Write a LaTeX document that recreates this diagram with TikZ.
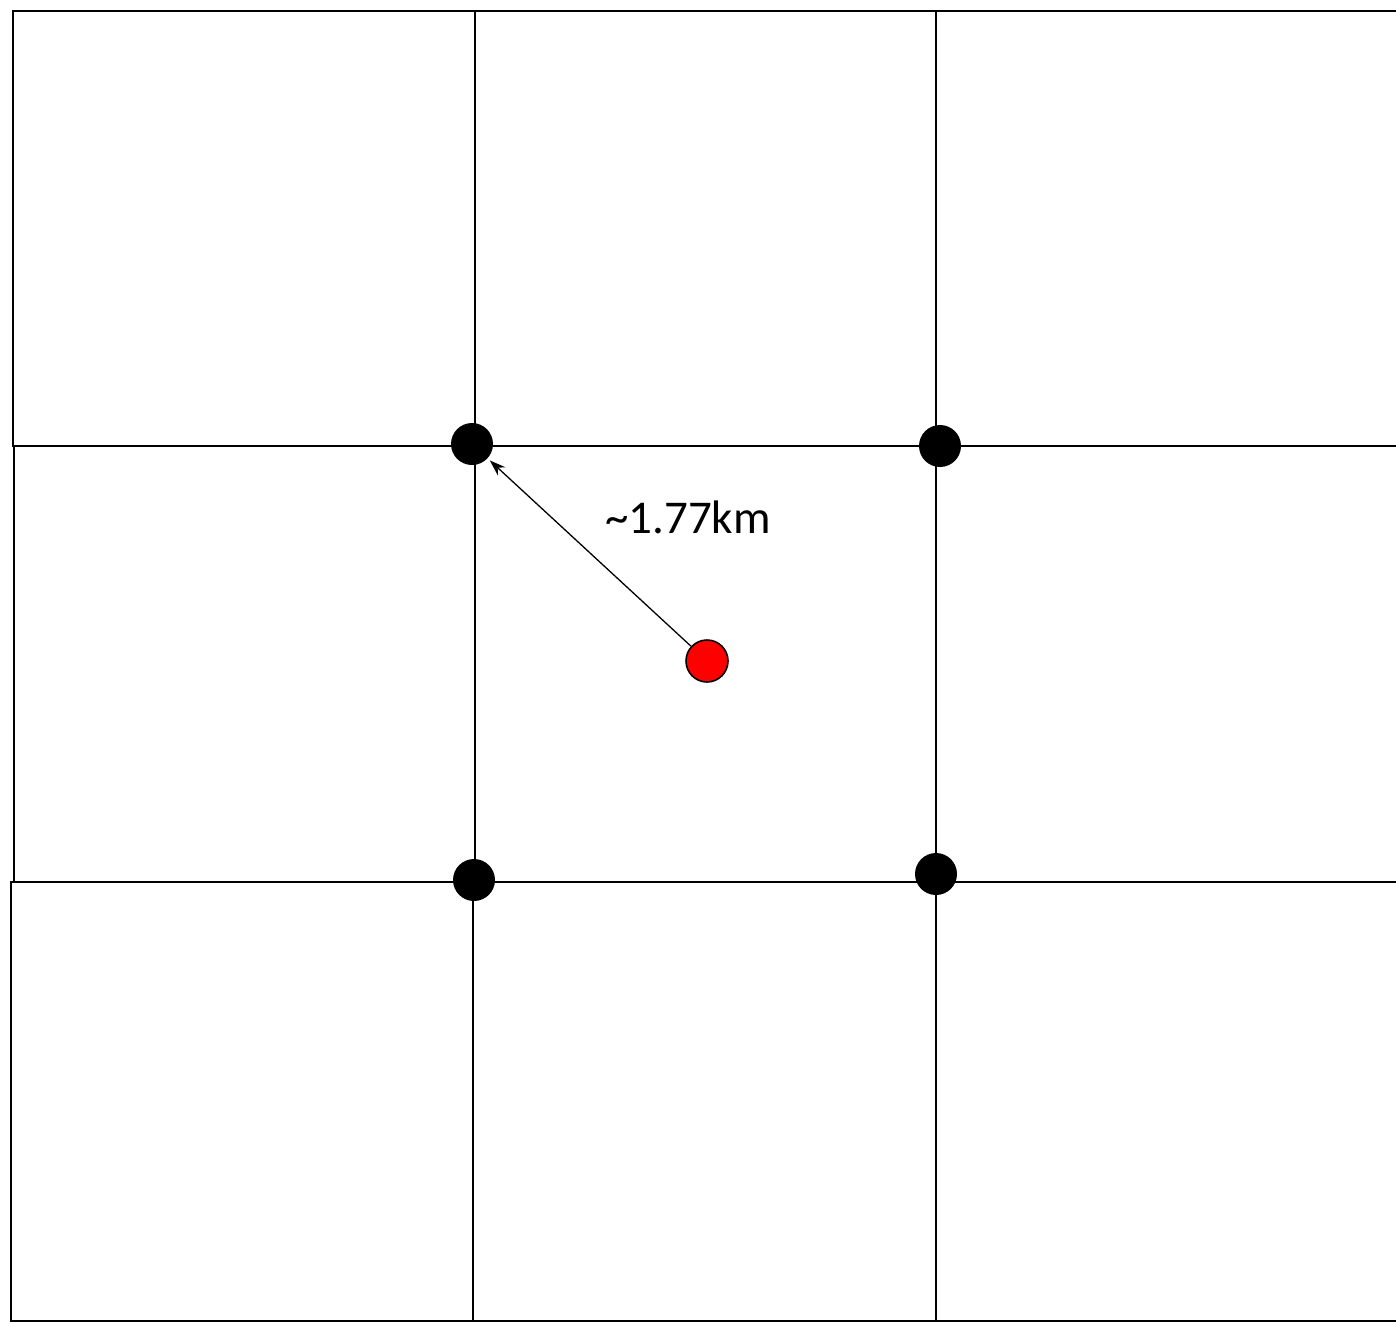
\documentclass[tikz,border=0pt]{standalone}
\usepackage{fontspec}
\setmainfont{Carlito}
\usetikzlibrary{arrows.meta}
\begin{document}
\begin{tikzpicture}[x=1pt,y=-1pt,
  gridline/.style={line width=2.8pt,line cap=rect},
  blackdot/.style={circle,fill=black,minimum size=42pt,inner sep=0pt},
  reddot/.style={circle,fill=red,draw=black,line width=1.6pt,minimum size=42pt,inner sep=0pt},
  pointer/.style={line width=1.3pt,-{Stealth[length=16pt,width=11pt]},shorten >=3pt},
  label/.style={font=\fontsize{47}{54}\selectfont,inner sep=0pt,anchor=base}]
\useasboundingbox (0,0) rectangle (1396,1325);
\clip (0,0) rectangle (1396,1325);
\fill[white] (0,0) rectangle (1396,1325);
% top row
\draw[gridline] (1420,11) -- (13,11) -- (13,446) -- (1420,446);
% middle row
\draw[gridline] (14,446) -- (14,882);
% bottom row
\draw[gridline] (1420,882) -- (11,882) -- (11,1321) -- (1420,1321);
% verticals
\draw[gridline] (475,11) -- (475,882);
\draw[gridline] (473,882) -- (473,1321);
\draw[gridline] (936,11) -- (936,1321);
% dots
\node[blackdot] (tl) at (472,444) {};
\node[blackdot] (tr) at (940,446) {};
\node[blackdot] (bl) at (474,880) {};
\node[blackdot] (br) at (936,874) {};
\node[reddot] (red) at (707,661) {};
\draw[pointer] (red) -- (tl);
\node[label] (dist) at (688,533) {\char`~1.77km};
\end{tikzpicture}
\end{document}
